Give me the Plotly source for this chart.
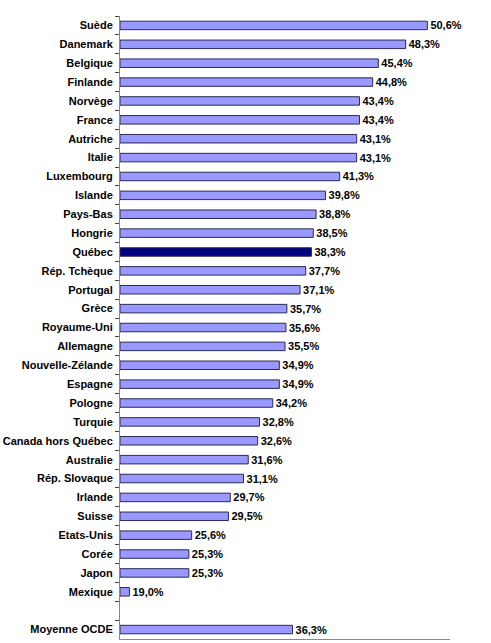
import plotly.graph_objects as go

categories = ["Suède", "Danemark", "Belgique", "Finlande", "Norvège", "France", "Autriche",
              "Italie", "Luxembourg", "Islande", "Pays-Bas", "Hongrie", "Québec",
              "Rép. Tchèque", "Portugal", "Grèce", "Royaume-Uni", "Allemagne",
              "Nouvelle-Zélande", "Espagne", "Pologne", "Turquie", "Canada hors Québec",
              "Australie", "Rép. Slovaque", "Irlande", "Suisse", "Etats-Unis", "Corée",
              "Japon", "Mexique", " ", "Moyenne OCDE"]
values = [50.6, 48.3, 45.4, 44.8, 43.4, 43.4, 43.1, 43.1, 41.3, 39.8, 38.8, 38.5, 38.3,
          37.7, 37.1, 35.7, 35.6, 35.5, 34.9, 34.9, 34.2, 32.8, 32.6, 31.6, 31.1, 29.7,
          29.5, 25.6, 25.3, 25.3, 19.0, None, 36.3]
highlight = "Québec"
axis_min = 18

colors = ["#000080" if c == highlight else "#9999FF" for c in categories]
texts = [("" if v is None else f"{v:.1f}%".replace(".", ",")) for v in values]
lengths = [(None if v is None else v - axis_min) for v in values]

fig = go.Figure(go.Bar(
    x=lengths, y=categories, orientation="h", base=axis_min,
    marker=dict(color=colors, line=dict(color="#2a2a55", width=1)),
    text=texts, textposition="outside", constraintext="none",
    textfont=dict(family="Liberation Sans, Arial", size=11, color="black", weight="bold"),
    cliponaxis=False, hoverinfo="skip",
))

fig.update_layout(
    width=491, height=643,
    margin=dict(l=120, r=41, t=16, b=4),
    plot_bgcolor="white", paper_bgcolor="white",
    bargap=0.55, showlegend=False,
    font=dict(family="Liberation Sans, Arial", size=11, color="black"),
)
fig.update_xaxes(range=[axis_min, 53], showgrid=False, showticklabels=False, zeroline=False,
                 showline=True, linecolor="#888888", linewidth=1, ticks="")
fig.update_yaxes(autorange="reversed", showgrid=False, showline=True, linecolor="#888888",
                 linewidth=1, ticks="outside", tickson="boundaries", ticklen=4,
                 tickcolor="#444444", ticklabelstandoff=4,
                 tickfont=dict(family="Liberation Sans, Arial", size=11, color="black", weight="bold"))
fig.write_html("out.html")
